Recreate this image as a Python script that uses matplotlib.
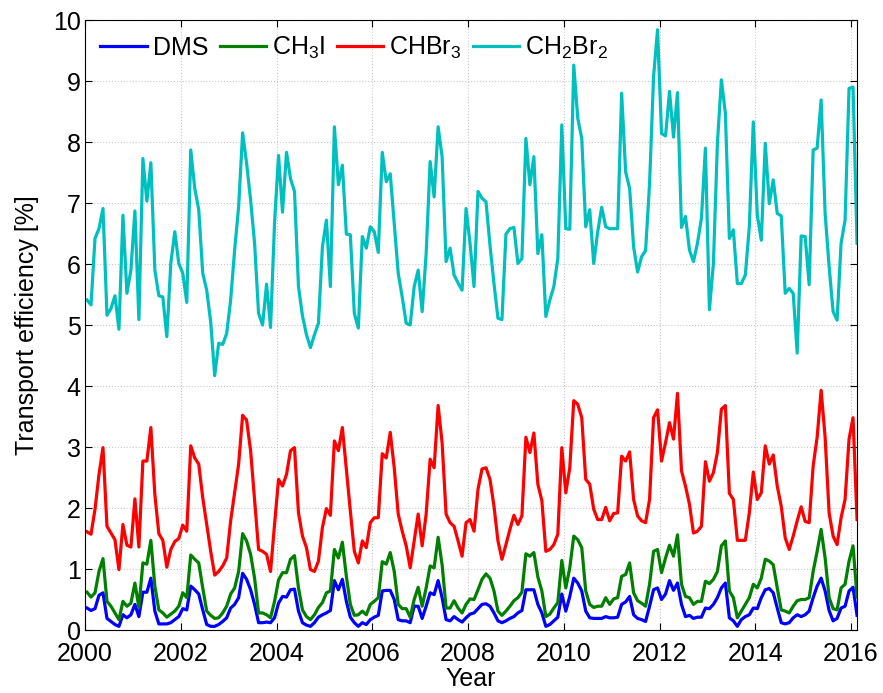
import numpy as np
import matplotlib
matplotlib.use("Agg")
import matplotlib.pyplot as plt

# Monthly transport efficiency [%], Jan 2000 - Feb 2016
dms = [0.36, 0.32, 0.35, 0.57, 0.61, 0.19, 0.14, 0.09, 0.06, 0.25, 0.20, 0.25,
       0.42, 0.22, 0.62, 0.62, 0.85, 0.31, 0.10, 0.10, 0.10, 0.12, 0.17, 0.22,
       0.35, 0.33, 0.72, 0.66, 0.59, 0.33, 0.09, 0.06, 0.06, 0.09, 0.14, 0.20,
       0.36, 0.42, 0.53, 0.93, 0.83, 0.66, 0.42, 0.12, 0.12, 0.13, 0.12, 0.20,
       0.44, 0.55, 0.54, 0.66, 0.67, 0.31, 0.12, 0.08, 0.06, 0.12, 0.21, 0.25,
       0.28, 0.32, 0.81, 0.66, 0.83, 0.47, 0.21, 0.12, 0.06, 0.12, 0.09, 0.17,
       0.21, 0.24, 0.64, 0.65, 0.65, 0.50, 0.17, 0.15, 0.15, 0.12, 0.39, 0.39,
       0.19, 0.39, 0.61, 0.58, 0.81, 0.53, 0.17, 0.15, 0.22, 0.17, 0.13, 0.20,
       0.26, 0.28, 0.35, 0.42, 0.43, 0.39, 0.28, 0.15, 0.12, 0.15, 0.19, 0.22,
       0.28, 0.32, 0.66, 0.66, 0.66, 0.42, 0.28, 0.06, 0.09, 0.15, 0.21, 0.59,
       0.31, 0.55, 0.85, 0.77, 0.64, 0.31, 0.20, 0.19, 0.19, 0.19, 0.22, 0.20,
       0.20, 0.21, 0.42, 0.46, 0.55, 0.25, 0.19, 0.17, 0.14, 0.39, 0.66, 0.69,
       0.50, 0.59, 0.81, 0.65, 0.77, 0.42, 0.22, 0.24, 0.19, 0.21, 0.21, 0.36,
       0.35, 0.42, 0.53, 0.69, 0.77, 0.20, 0.15, 0.06, 0.17, 0.22, 0.25, 0.36,
       0.35, 0.53, 0.66, 0.68, 0.61, 0.36, 0.12, 0.10, 0.12, 0.20, 0.25, 0.22,
       0.25, 0.31, 0.53, 0.72, 0.85, 0.64, 0.32, 0.15, 0.19, 0.36, 0.39, 0.64,
       0.70, 0.24]

ch3i = [0.62, 0.54, 0.61, 0.96, 1.17, 0.47, 0.39, 0.28, 0.17, 0.47, 0.39, 0.44,
        0.77, 0.37, 1.10, 1.08, 1.47, 0.72, 0.33, 0.28, 0.21, 0.26, 0.31, 0.39,
        0.61, 0.53, 1.23, 1.16, 1.10, 0.69, 0.31, 0.24, 0.19, 0.20, 0.28, 0.39,
        0.59, 0.69, 0.96, 1.58, 1.46, 1.24, 0.85, 0.28, 0.28, 0.25, 0.20, 0.47,
        0.82, 0.94, 0.94, 1.16, 1.22, 0.69, 0.33, 0.22, 0.17, 0.25, 0.37, 0.45,
        0.61, 0.64, 1.32, 1.18, 1.44, 0.88, 0.42, 0.24, 0.25, 0.31, 0.25, 0.42,
        0.47, 0.53, 1.12, 1.08, 1.27, 0.96, 0.42, 0.35, 0.35, 0.21, 0.50, 0.70,
        0.39, 0.69, 1.05, 1.02, 1.52, 1.07, 0.36, 0.36, 0.48, 0.36, 0.28, 0.42,
        0.51, 0.50, 0.66, 0.83, 0.92, 0.85, 0.64, 0.31, 0.24, 0.31, 0.39, 0.48,
        0.53, 0.62, 1.25, 1.21, 1.27, 0.87, 0.64, 0.22, 0.26, 0.36, 0.45, 1.14,
        0.69, 1.02, 1.54, 1.48, 1.35, 0.64, 0.42, 0.37, 0.39, 0.39, 0.53, 0.42,
        0.51, 0.53, 0.88, 0.91, 1.10, 0.61, 0.48, 0.44, 0.39, 0.75, 1.29, 1.32,
        0.94, 1.18, 1.39, 1.21, 1.56, 0.75, 0.55, 0.53, 0.42, 0.47, 0.47, 0.80,
        0.76, 0.83, 0.96, 1.38, 1.46, 0.64, 0.53, 0.20, 0.31, 0.42, 0.53, 0.75,
        0.69, 0.85, 1.16, 1.13, 1.07, 0.69, 0.33, 0.31, 0.28, 0.39, 0.48, 0.50,
        0.50, 0.53, 0.96, 1.29, 1.65, 1.18, 0.53, 0.35, 0.33, 0.69, 0.75, 1.13,
        1.38, 0.54]

chbr3 = [1.61, 1.57, 1.98, 2.55, 2.99, 1.70, 1.59, 1.48, 0.99, 1.73, 1.39, 1.36,
         2.15, 1.36, 2.77, 2.77, 3.32, 2.22, 1.58, 1.47, 1.03, 1.32, 1.45, 1.50,
         1.72, 1.62, 3.02, 2.82, 2.72, 2.17, 1.73, 1.29, 0.90, 0.96, 1.05, 1.18,
         1.79, 2.25, 2.72, 3.52, 3.44, 2.94, 2.12, 1.32, 1.29, 1.24, 0.96, 1.73,
         2.47, 2.36, 2.55, 2.94, 2.99, 1.92, 1.54, 1.35, 0.99, 0.96, 1.13, 1.68,
         1.99, 1.88, 3.10, 2.94, 3.32, 2.63, 1.95, 1.29, 1.10, 1.46, 1.35, 1.76,
         1.84, 1.84, 2.89, 2.82, 3.24, 2.66, 1.90, 1.62, 1.38, 1.02, 1.46, 1.90,
         1.38, 1.90, 2.80, 2.66, 3.68, 3.07, 1.90, 1.76, 1.70, 1.46, 1.21, 1.76,
         1.81, 1.62, 2.31, 2.64, 2.66, 2.47, 2.03, 1.46, 1.16, 1.40, 1.65, 1.88,
         1.73, 1.87, 3.16, 2.91, 3.23, 2.39, 2.12, 1.29, 1.32, 1.40, 1.57, 2.99,
         2.25, 2.66, 3.76, 3.70, 3.48, 2.47, 2.39, 1.98, 1.81, 1.81, 2.01, 1.79,
         1.91, 1.92, 2.85, 2.77, 2.92, 2.14, 1.87, 1.79, 1.76, 2.14, 3.48, 3.61,
         2.77, 3.07, 3.40, 3.13, 3.88, 2.61, 2.36, 2.06, 1.59, 1.62, 1.70, 2.76,
         2.44, 2.58, 2.91, 3.62, 3.68, 2.24, 2.14, 1.47, 1.47, 1.47, 1.92, 2.59,
         2.14, 2.25, 3.02, 2.72, 2.87, 2.36, 2.03, 1.51, 1.32, 1.54, 1.79, 2.02,
         1.78, 1.76, 2.69, 3.16, 3.93, 3.16, 1.92, 1.54, 1.40, 1.84, 2.14, 3.13,
         3.48, 1.81]

ch2br2 = [5.41, 5.33, 6.42, 6.58, 6.91, 5.16, 5.27, 5.48, 4.93, 6.80, 5.52, 5.90,
          6.87, 5.09, 7.73, 7.03, 7.66, 5.90, 5.48, 5.46, 4.81, 6.01, 6.53, 6.01,
          5.85, 5.37, 7.87, 7.24, 6.89, 5.85, 5.57, 5.05, 4.17, 4.70, 4.68, 4.86,
          5.41, 6.23, 6.94, 8.15, 7.65, 7.05, 6.34, 5.19, 5.00, 5.67, 4.96, 6.67,
          7.78, 6.85, 7.83, 7.40, 7.19, 5.63, 5.15, 4.84, 4.63, 4.84, 5.03, 6.28,
          6.72, 5.63, 8.25, 7.30, 7.62, 6.49, 6.48, 5.19, 4.95, 6.45, 6.26, 6.61,
          6.53, 6.19, 7.83, 7.35, 7.48, 6.67, 5.85, 5.46, 5.03, 5.00, 5.63, 5.90,
          5.22, 6.17, 7.68, 7.10, 8.25, 7.76, 6.04, 6.26, 5.82, 5.69, 5.57, 6.91,
          6.34, 5.63, 7.19, 7.08, 7.02, 6.31, 5.68, 5.11, 5.09, 6.49, 6.58, 6.60,
          6.01, 6.09, 8.06, 7.30, 7.76, 6.17, 6.48, 5.14, 5.41, 5.63, 6.09, 8.28,
          6.58, 6.57, 9.26, 8.39, 8.06, 6.61, 6.89, 6.01, 6.53, 6.93, 6.61, 6.58,
          6.58, 6.58, 8.80, 7.51, 7.24, 6.28, 5.87, 6.12, 6.22, 7.32, 9.07, 9.84,
          8.14, 8.10, 8.83, 8.08, 8.81, 6.60, 6.78, 6.23, 6.04, 6.34, 6.75, 7.90,
          5.25, 6.01, 7.98, 9.02, 8.47, 6.42, 6.56, 5.68, 5.68, 5.82, 6.61, 8.33,
          6.80, 6.39, 7.98, 6.99, 7.38, 6.83, 6.79, 5.52, 5.60, 5.52, 4.54, 6.46,
          6.45, 5.66, 7.87, 7.90, 8.69, 6.83, 5.96, 5.22, 5.08, 6.34, 6.72, 8.88,
          8.90, 6.34]

labels = ["DMS", r"CH$_3$I", r"CHBr$_3$", r"CH$_2$Br$_2$"]
colors = ["#0000ff", "#008000", "#ff0000", "#00bfbf"]
year_ticks = list(range(2000, 2017, 2))

plt.rcParams["font.family"] = "Liberation Sans"
plt.rcParams["mathtext.fontset"] = "custom"
plt.rcParams["mathtext.rm"] = "Liberation Sans"
plt.rcParams["mathtext.default"] = "regular"

# mid-month time axis
t = 2000 + (np.arange(len(dms)) + 0.5) / 12.0

fig = plt.figure(figsize=(8.83, 6.93), dpi=100)
ax = fig.add_axes([0.0963, 0.0909, 0.8743, 0.8802])

for series, lab, col in zip([dms, ch3i, chbr3, ch2br2], labels, colors):
    ax.plot(t, series, color=col, lw=2.3, label=lab)

ax.set_xlim(2000, t[-1])
ax.set_ylim(0, 10)
ax.set_xticks(year_ticks)
ax.set_yticks(range(0, 11))
ax.grid(True, color="#c8c8c8", linestyle=":", linewidth=0.8)
ax.tick_params(direction="in", top=True, right=True, labelsize=18, length=5)
ax.tick_params(axis="x", pad=8.5)
ax.tick_params(axis="y", pad=3)
for sp in ax.spines.values():
    sp.set_linewidth(0.8)

ax.set_xlabel("Year", fontsize=18, labelpad=1)
ax.set_ylabel("Transport efficiency [%]", fontsize=18, labelpad=10)

ax.legend(loc="upper left", ncol=4, frameon=False, fontsize=18,
          handlelength=1.85, handletextpad=0.25, columnspacing=0.45,
          borderaxespad=0.0, borderpad=0.3, bbox_to_anchor=(0.01, 0.988))

fig.savefig("out.png", dpi=100)
